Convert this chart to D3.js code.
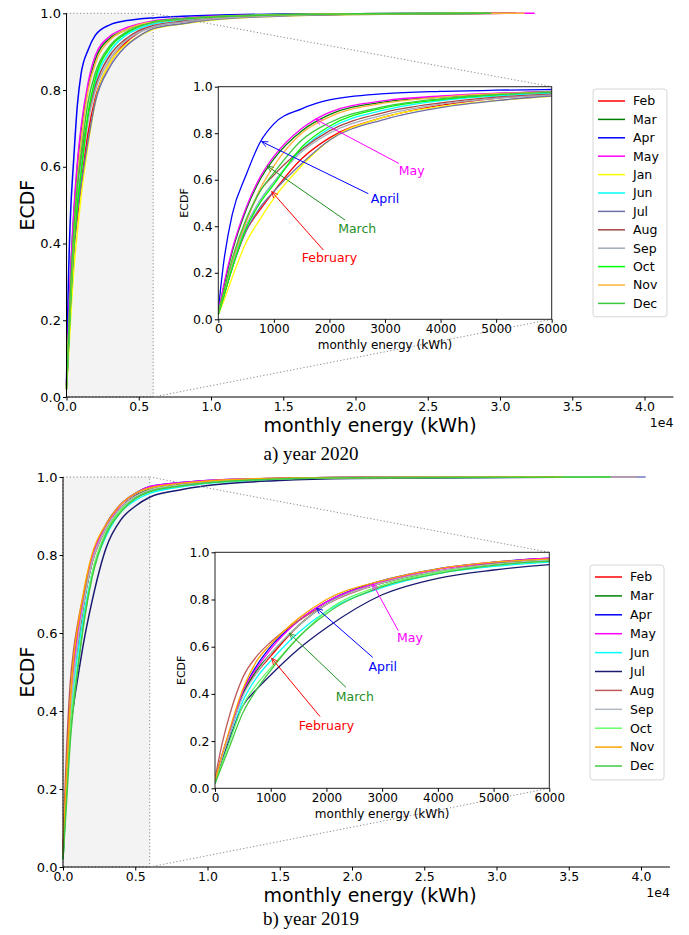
<!DOCTYPE html>
<html>
<head>
<meta charset="utf-8">
<script src="https://cdn.jsdelivr.net/npm/d3@7"></script>
<style>
  body { margin: 0; background: #fff; }
  svg { font-family: "DejaVu Sans", sans-serif; }
  .axis path, .axis line { stroke: #000; }
  .caption { font-family: "Liberation Serif", "Times New Roman", serif; }
</style>
</head>
<body>
<svg id="chart" width="689" height="935"></svg>
<script>
// energy grid (kWh) the ECDF values are read at
var energy = [0, 100, 250, 500, 750, 1000, 1500, 2000, 3000, 4000, 5000, 6000, 8000, 10000, 15000, 20000];

// year 2020
var months2020 = ['Feb', 'Mar', 'Apr', 'May', 'Jan', 'Jun', 'Jul', 'Aug', 'Sep', 'Oct', 'Nov', 'Dec'];
var colors2020 = ['#ff0000', '#008000', '#0000ff', '#ff00ff', '#ffff00', '#00ffff', '#6f6fa8', '#a84444', '#a3abb8', '#00ff00', '#ffb43c', '#3cc83c'];
var feb2020 = [0.02, 0.10, 0.22, 0.38, 0.47, 0.55, 0.69, 0.78, 0.87, 0.92, 0.95, 0.965, 0.978, 0.986, 0.995, 0.998];
var mar2020 = [0.03, 0.14, 0.29, 0.47, 0.60, 0.69, 0.81, 0.88, 0.935, 0.955, 0.97, 0.978, 0.986, 0.991, 0.997, 0.999];
var apr2020 = [0.04, 0.25, 0.45, 0.62, 0.76, 0.84, 0.905, 0.943, 0.97, 0.98, 0.985, 0.988, 0.992, 0.995, 0.998, 0.999];
var may2020 = [0.03, 0.15, 0.30, 0.48, 0.61, 0.70, 0.82, 0.89, 0.94, 0.96, 0.972, 0.98, 0.987, 0.992, 0.997, 0.999];
var jan2020 = [0.02, 0.08, 0.18, 0.33, 0.43, 0.52, 0.66, 0.77, 0.87, 0.915, 0.94, 0.958, 0.972, 0.982, 0.993, 0.997];
var jun2020 = [0.03, 0.11, 0.24, 0.40, 0.51, 0.59, 0.73, 0.82, 0.90, 0.94, 0.96, 0.972, 0.982, 0.988, 0.996, 0.998];
var jul2020 = [0.02, 0.10, 0.22, 0.38, 0.48, 0.55, 0.67, 0.77, 0.86, 0.91, 0.94, 0.96, 0.973, 0.983, 0.993, 0.997];
var aug2020 = [0.03, 0.12, 0.25, 0.42, 0.55, 0.62, 0.73, 0.81, 0.89, 0.93, 0.955, 0.968, 0.979, 0.986, 0.995, 0.998];
var sep2020 = [0.02, 0.11, 0.23, 0.40, 0.51, 0.59, 0.72, 0.80, 0.88, 0.925, 0.95, 0.965, 0.977, 0.985, 0.994, 0.998];
var oct2020 = [0.02, 0.10, 0.22, 0.39, 0.50, 0.58, 0.74, 0.83, 0.91, 0.945, 0.965, 0.978, 0.986, 0.991, 0.997, 0.999];
var nov2020 = [0.03, 0.12, 0.25, 0.42, 0.56, 0.66, 0.80, 0.87, 0.93, 0.955, 0.97, 0.977, 0.985, 0.99, 0.996, 0.999];
var dec2020 = [0.03, 0.12, 0.26, 0.43, 0.55, 0.63, 0.77, 0.845, 0.915, 0.948, 0.966, 0.976, 0.985, 0.99, 0.996, 0.999];
// largest monthly energy of each month (ECDF reaches 1 there)
var end2020 = [31100, 29200, 28000, 32400, 28500, 28800, 30200, 31100, 27800, 29000, 31700, 29400];

// year 2019
var months2019 = ['Feb', 'Mar', 'Apr', 'May', 'Jun', 'Jul', 'Aug', 'Sep', 'Oct', 'Nov', 'Dec'];
var colors2019 = ['#ff0000', '#008000', '#0000ff', '#ff00ff', '#00ffff', '#191970', '#c05a5a', '#b0b8c0', '#66ff66', '#ffa500', '#44c844'];
var feb2019 = [0.03, 0.11, 0.22, 0.40, 0.49, 0.56, 0.69, 0.78, 0.87, 0.92, 0.95, 0.965, 0.978, 0.987, 0.996, 0.999];
var mar2019 = [0.03, 0.11, 0.22, 0.40, 0.50, 0.57, 0.69, 0.78, 0.87, 0.92, 0.952, 0.968, 0.98, 0.988, 0.996, 0.999];
var apr2019 = [0.03, 0.12, 0.23, 0.41, 0.52, 0.60, 0.71, 0.79, 0.88, 0.93, 0.958, 0.975, 0.985, 0.991, 0.997, 0.999];
var may2019 = [0.03, 0.12, 0.23, 0.41, 0.51, 0.59, 0.71, 0.79, 0.875, 0.928, 0.957, 0.975, 0.985, 0.991, 0.997, 0.999];
var jun2019 = [0.02, 0.10, 0.20, 0.37, 0.47, 0.54, 0.66, 0.75, 0.85, 0.91, 0.94, 0.958, 0.974, 0.984, 0.994, 0.998];
var jul2019 = [0.02, 0.10, 0.20, 0.35, 0.42, 0.48, 0.59, 0.68, 0.82, 0.89, 0.925, 0.948, 0.966, 0.978, 0.991, 0.996];
var aug2019 = [0.04, 0.16, 0.30, 0.47, 0.56, 0.62, 0.71, 0.78, 0.87, 0.92, 0.95, 0.965, 0.978, 0.987, 0.996, 0.999];
var sep2019 = [0.03, 0.11, 0.22, 0.39, 0.49, 0.57, 0.69, 0.78, 0.87, 0.92, 0.95, 0.967, 0.979, 0.987, 0.996, 0.999];
var oct2019 = [0.02, 0.09, 0.19, 0.35, 0.44, 0.51, 0.64, 0.75, 0.86, 0.915, 0.945, 0.963, 0.976, 0.985, 0.995, 0.998];
var nov2019 = [0.03, 0.12, 0.24, 0.42, 0.54, 0.61, 0.72, 0.80, 0.88, 0.93, 0.958, 0.972, 0.983, 0.99, 0.997, 0.999];
var dec2019 = [0.02, 0.08, 0.17, 0.32, 0.42, 0.50, 0.64, 0.74, 0.855, 0.91, 0.945, 0.962, 0.976, 0.985, 0.995, 0.998];
var end2019 = [39700, 37900, 40300, 39700, 34600, 37900, 39700, 40300, 37900, 34600, 37900];

// annotations: label, colour, text pos (energy, ecdf), arrow start, arrow tip
var noteLabels = ['May', 'April', 'March', 'February'];
var noteColors = ['#ff00ff', '#0000ff', '#1f8f1f', '#ff0000'];
var notes2020 = [
  [3480, 0.64, 3250, 0.67, 1750, 0.86],
  [3000, 0.52, 2700, 0.54, 780, 0.764],
  [2500, 0.39, 2280, 0.427, 880, 0.659],
  [2000, 0.265, 1890, 0.298, 960, 0.549]
];
var notes2019 = [
  [3500, 0.64, 3290, 0.668, 2830, 0.866],
  [3010, 0.515, 2830, 0.555, 1824, 0.763],
  [2510, 0.39, 2350, 0.428, 1333, 0.657],
  [2000, 0.265, 1885, 0.304, 1017, 0.551]
];

var mainTicks = [0, 5000, 10000, 15000, 20000, 25000, 30000, 35000, 40000];
var ecdfTicks = [0, 0.2, 0.4, 0.6, 0.8, 1.0];
var insetTicks = [0, 1000, 2000, 3000, 4000, 5000, 6000];
var zoomMax = 6000;

var svg = d3.select('#chart');

var defs = svg.append('defs');
noteColors.forEach(function(c, i) {
  defs.append('marker')
    .attr('id', 'arrow' + i)
    .attr('viewBox', '0 0 10 10')
    .attr('refX', 9).attr('refY', 5)
    .attr('markerWidth', 7).attr('markerHeight', 7)
    .attr('markerUnits', 'userSpaceOnUse')
    .attr('orient', 'auto')
    .append('path')
    .attr('d', 'M0,1 L9,5 L0,9')
    .attr('fill', 'none')
    .attr('stroke', c)
    .attr('stroke-width', 1.2);
});

function seriesOf(rows, ends) {
  return rows.map(function(r, i) {
    var pts = energy.map(function(e, j) { return [e, r[j]]; });
    pts.push([ends[i], 1.0]);
    return pts;
  });
}

function drawPanel(p) {
  var g = svg.append('g');
  var series = seriesOf(p.rows, p.ends);

  var x = d3.scaleLinear().domain([0, 42000]).range([p.left, p.left + 4.2 * 144.5]);
  var y = d3.scaleLinear().domain([0, 1]).range([p.bottom, p.top]);

  // zoomed region
  g.append('rect')
    .attr('x', x(0)).attr('y', y(1))
    .attr('width', x(zoomMax) - x(0)).attr('height', y(0) - y(1))
    .attr('fill', '#f3f3f3')
    .attr('stroke', '#888').attr('stroke-width', 1)
    .attr('stroke-dasharray', '1.2,2.2');

  var line = d3.line()
    .x(function(d) { return x(d[0]); })
    .y(function(d) { return y(d[1]); })
    .curve(d3.curveMonotoneX);

  g.append('g').selectAll('path')
    .data(series)
    .enter().append('path')
    .attr('d', line)
    .attr('fill', 'none')
    .attr('stroke', function(d, i) { return p.colors[i]; })
    .attr('stroke-width', 1.5);

  g.append('g')
    .attr('class', 'axis')
    .attr('transform', 'translate(0,' + p.bottom + ')')
    .call(d3.axisBottom(x).tickValues(mainTicks).tickSize(3.5).tickPadding(2)
      .tickFormat(function(d) { return (d / 10000).toFixed(1); }))
    .call(function(a) { a.selectAll('text').attr('font-size', 12.5).attr('font-family', 'DejaVu Sans'); })
    .call(function(a) { a.select('.domain').attr('d', 'M' + x(0) + ',0H' + x(42000)); });

  g.append('g')
    .attr('class', 'axis')
    .attr('transform', 'translate(' + p.left + ',0)')
    .call(d3.axisLeft(y).tickValues(ecdfTicks).tickSize(3.5).tickPadding(2)
      .tickFormat(d3.format('.1f')))
    .call(function(a) { a.selectAll('text').attr('font-size', 13).attr('font-family', 'DejaVu Sans'); })
    .call(function(a) { a.select('.domain').attr('d', 'M0,' + p.bottom + 'V' + p.top); });

  g.append('text')
    .attr('x', x(42000)).attr('y', p.bottom + 30)
    .attr('text-anchor', 'end')
    .attr('font-size', 12.5)
    .text('1e4');

  g.append('text')
    .attr('x', 370).attr('y', p.bottom + 35)
    .attr('text-anchor', 'middle')
    .attr('font-size', 19)
    .text('monthly energy (kWh)');

  g.append('text')
    .attr('transform', 'translate(34,' + ((p.top + p.bottom) / 2) + ') rotate(-90)')
    .attr('text-anchor', 'middle')
    .attr('font-size', 19)
    .text('ECDF');

  // inset
  var ix = d3.scaleLinear().domain([0, zoomMax]).range([p.inset[0], p.inset[1]]);
  var iy = d3.scaleLinear().domain([0, 1]).range([p.inset[3], p.inset[2]]);

  // connector lines
  g.append('line')
    .attr('x1', x(zoomMax)).attr('y1', y(1))
    .attr('x2', ix(zoomMax)).attr('y2', iy(1))
    .attr('stroke', '#888').attr('stroke-dasharray', '1.2,2.2');
  g.append('line')
    .attr('x1', x(zoomMax)).attr('y1', y(0))
    .attr('x2', ix(zoomMax)).attr('y2', iy(0))
    .attr('stroke', '#888').attr('stroke-dasharray', '1.2,2.2');

  var ig = g.append('g');
  ig.append('rect')
    .attr('x', ix(0)).attr('y', iy(1))
    .attr('width', ix(zoomMax) - ix(0)).attr('height', iy(0) - iy(1))
    .attr('fill', '#fff');

  defs.append('clipPath').attr('id', 'clip' + p.id)
    .append('rect')
    .attr('x', ix(0)).attr('y', iy(1) - 1)
    .attr('width', ix(zoomMax) - ix(0)).attr('height', iy(0) - iy(1) + 1);

  var iline = d3.line()
    .x(function(d) { return ix(d[0]); })
    .y(function(d) { return iy(d[1]); })
    .curve(d3.curveMonotoneX);

  ig.append('g')
    .attr('clip-path', 'url(#clip' + p.id + ')')
    .selectAll('path')
    .data(series)
    .enter().append('path')
    .attr('d', iline)
    .attr('fill', 'none')
    .attr('stroke', function(d, i) { return p.colors[i]; })
    .attr('stroke-width', 1.3);

  ig.append('rect')
    .attr('x', ix(0)).attr('y', iy(1))
    .attr('width', ix(zoomMax) - ix(0)).attr('height', iy(0) - iy(1))
    .attr('fill', 'none').attr('stroke', '#222').attr('stroke-width', 1);

  ig.append('g')
    .attr('class', 'axis')
    .attr('transform', 'translate(0,' + iy(0) + ')')
    .call(d3.axisBottom(ix).tickValues(insetTicks).tickSize(3.5).tickPadding(2).tickFormat(d3.format('d')))
    .call(function(a) { a.selectAll('text').attr('font-size', 12).attr('font-family', 'DejaVu Sans'); })
    .call(function(a) { a.select('.domain').remove(); });

  ig.append('g')
    .attr('class', 'axis')
    .attr('transform', 'translate(' + ix(0) + ',0)')
    .call(d3.axisLeft(iy).tickValues(ecdfTicks).tickSize(3.5).tickPadding(2).tickFormat(d3.format('.1f')))
    .call(function(a) { a.selectAll('text').attr('font-size', 12.5).attr('font-family', 'DejaVu Sans'); })
    .call(function(a) { a.select('.domain').remove(); });

  ig.append('text')
    .attr('x', (ix(0) + ix(zoomMax)) / 2).attr('y', iy(0) + 30)
    .attr('text-anchor', 'middle')
    .attr('font-size', 12)
    .text('monthly energy (kWh)');

  ig.append('text')
    .attr('transform', 'translate(' + (ix(0) - 30) + ',' + ((iy(0) + iy(1)) / 2) + ') rotate(-90)')
    .attr('text-anchor', 'middle')
    .attr('font-size', 11)
    .text('ECDF');

  // annotations
  p.notes.forEach(function(n, i) {
    ig.append('line')
      .attr('x1', ix(n[2])).attr('y1', iy(n[3]))
      .attr('x2', ix(n[4])).attr('y2', iy(n[5]))
      .attr('stroke', noteColors[i]).attr('stroke-width', 1)
      .attr('marker-end', 'url(#arrow' + i + ')');
    ig.append('text')
      .attr('x', ix(n[0])).attr('y', iy(n[1]))
      .attr('dy', '0.35em')
      .attr('text-anchor', 'middle')
      .attr('font-size', 12.5)
      .attr('fill', noteColors[i])
      .text(noteLabels[i]);
  });

  // legend
  var lg = g.append('g').attr('transform', 'translate(' + p.legend[0] + ',' + p.legend[1] + ')');
  var rowH = p.legend[2];
  lg.append('rect')
    .attr('x', 0).attr('y', 0)
    .attr('width', 74).attr('height', p.names.length * rowH + 7)
    .attr('rx', 3)
    .attr('fill', '#fff').attr('stroke', '#d6d6d6');
  var rows = lg.selectAll('g.item')
    .data(p.names)
    .enter().append('g')
    .attr('class', 'item')
    .attr('transform', function(d, i) { return 'translate(0,' + (12 + i * rowH) + ')'; });
  rows.append('line')
    .attr('x1', 5).attr('x2', 32)
    .attr('stroke', function(d, i) { return p.colors[i]; })
    .attr('stroke-width', 1.5);
  rows.append('text')
    .attr('x', 40).attr('dy', '0.35em')
    .attr('font-size', 12.5)
    .text(function(d) { return d; });

  g.append('text')
    .attr('class', 'caption')
    .attr('x', 311).attr('y', p.caption)
    .attr('text-anchor', 'middle')
    .attr('font-size', 19)
    .text(p.title);
}

drawPanel({
  id: 'a', left: 66.5, top: 13.3, bottom: 397,
  inset: [218.3, 551.7, 86.7, 319.3],
  rows: [feb2020, mar2020, apr2020, may2020, jan2020, jun2020, jul2020, aug2020, sep2020, oct2020, nov2020, dec2020],
  ends: end2020, colors: colors2020, names: months2020,
  notes: notes2020, legend: [593, 89, 18.4], caption: 460, title: 'a) year 2020'
});

drawPanel({
  id: 'b', left: 63, top: 477, bottom: 867,
  inset: [215, 549.3, 552.3, 788.3],
  rows: [feb2019, mar2019, apr2019, may2019, jun2019, jul2019, aug2019, sep2019, oct2019, nov2019, dec2019],
  ends: end2019, colors: colors2019, names: months2019,
  notes: notes2019, legend: [590, 565, 18.9], caption: 925, title: 'b) year 2019'
});
</script>
</body>
</html>
